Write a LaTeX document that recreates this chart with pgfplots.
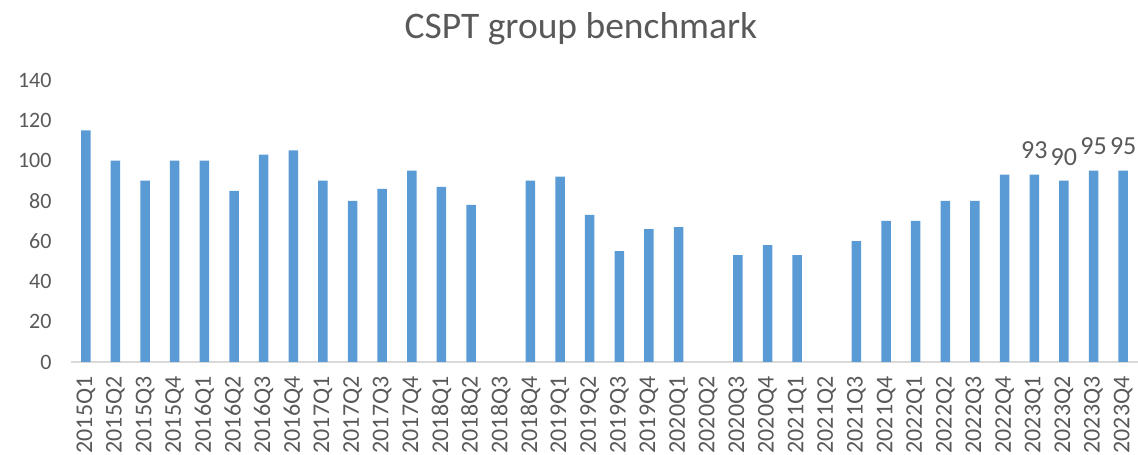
\documentclass[border=0pt]{standalone}
\usepackage{pgfplots}
\pgfplotsset{compat=1.18}
\usepackage{fontspec}
\setmainfont{Carlito}
\definecolor{barblue}{HTML}{5B9BD5}
\definecolor{txtgray}{HTML}{595959}
\definecolor{axgray}{HTML}{D9D9D9}
\begin{document}
\begin{tikzpicture}[x=1pt,y=1pt]
\path[use as bounding box] (0,0) rectangle (1138,455);
\node[text=txtgray, font=\fontsize{37.5}{44}\selectfont] at (581,426) {CSPT group benchmark};
\begin{axis}[
  at={(71pt,93pt)}, anchor=south west,
  scale only axis,
  width=1067pt, height=282pt,
  xmin=-0.5, xmax=35.5,
  ymin=0, ymax=140,
  ytick={0,20,...,140},
  xtick={0,...,35},
  xticklabels={2015Q1,2015Q2,2015Q3,2015Q4,2016Q1,2016Q2,2016Q3,2016Q4,
    2017Q1,2017Q2,2017Q3,2017Q4,2018Q1,2018Q2,2018Q3,2018Q4,
    2019Q1,2019Q2,2019Q3,2019Q4,2020Q1,2020Q2,2020Q3,2020Q4,
    2021Q1,2021Q2,2021Q3,2021Q4,2022Q1,2022Q2,2022Q3,2022Q4,
    2023Q1,2023Q2,2023Q3,2023Q4},
  xticklabel style={rotate=90, anchor=east, font=\fontsize{24}{28}\selectfont},
  xticklabel shift=11pt,
  yticklabel style={font=\fontsize{22}{26}\selectfont},
  yticklabel shift=16pt,
  /pgf/number format/assume math mode=true,
  ticklabel style={text=txtgray},
  major tick length=0pt,
  axis lines*=left,
  x axis line style={draw=axgray, line width=1.5pt, -},
  y axis line style={draw=none},
  clip=false,
  ]
  \addplot[ybar, bar width=9.5pt, bar shift=0pt, fill=barblue, draw=none] coordinates {
    (0,115) (1,100) (2,90) (3,100) (4,100) (5,85) (6,103) (7,105)
    (8,90) (9,80) (10,86) (11,95) (12,87) (13,78) (15,90)
    (16,92) (17,73) (18,55) (19,66) (20,67) (22,53) (23,58)
    (24,53) (26,60) (27,70) (28,70) (29,80) (30,80) (31,93)
  };
  \addplot[ybar, bar width=9.5pt, bar shift=0pt, fill=barblue, draw=none,
    nodes near coords, nodes near coords align={vertical},
    every node near coord/.append style={text=txtgray, font=\fontsize{26}{30}\selectfont, yshift=12pt}]
    coordinates {(32,93) (33,90) (34,95) (35,95)};
\end{axis}
\end{tikzpicture}
\end{document}
